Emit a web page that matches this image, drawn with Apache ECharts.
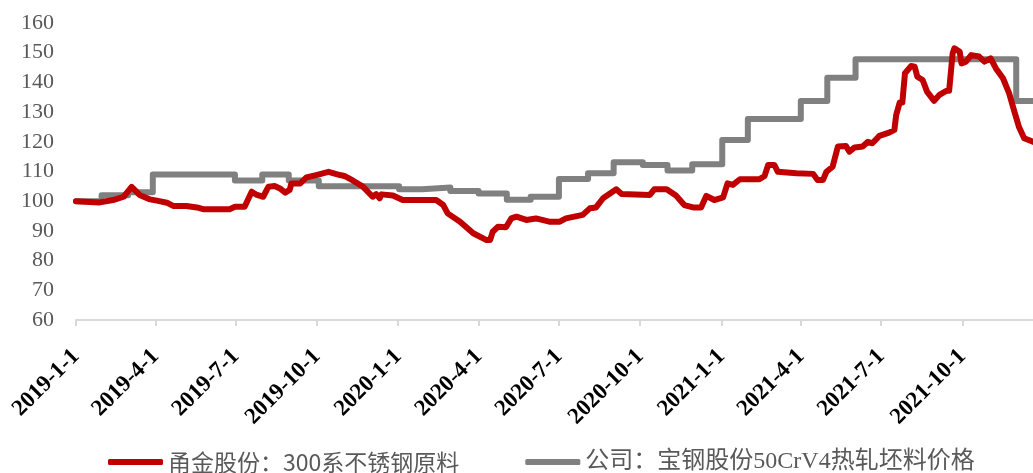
<!DOCTYPE html>
<html>
<head>
<meta charset="utf-8">
<script src="https://cdn.jsdelivr.net/npm/echarts@6/dist/echarts.min.js"></script>
<style>
  html, body { margin: 0; padding: 0; background: #fff; }
  #chart { width: 1033px; height: 473px; }
</style>
</head>
<body>
<div id="chart"></div>
<script>
const seriesNames = ['甬金股份：300系不锈钢原料', '公司：宝钢股份50CrV4热轧坯料价格'];

// 甬金股份 300系不锈钢原料 (index, 2019-1-1 = 100)
const redDates = [
  '2019-01-01', '2019-01-28', '2019-02-12', '2019-02-24', '2019-03-05', '2019-03-14', '2019-03-26',
  '2019-04-04', '2019-04-14', '2019-04-21', '2019-05-06', '2019-05-18', '2019-05-25', '2019-06-24',
  '2019-06-30', '2019-07-11', '2019-07-19', '2019-07-25', '2019-08-01', '2019-08-07', '2019-08-14',
  '2019-08-20', '2019-08-26', '2019-08-31', '2019-09-02', '2019-09-12', '2019-09-19', '2019-09-30',
  '2019-10-14', '2019-10-27', '2019-11-01', '2019-11-11', '2019-11-22', '2019-12-03', '2019-12-07',
  '2019-12-11', '2019-12-13', '2019-12-26', '2020-01-06', '2020-02-13', '2020-02-21', '2020-02-26',
  '2020-03-11', '2020-03-26', '2020-04-10', '2020-04-14', '2020-04-17', '2020-04-23', '2020-05-02',
  '2020-05-08', '2020-05-14', '2020-05-25', '2020-06-05', '2020-06-20', '2020-07-02', '2020-07-09',
  '2020-07-28', '2020-08-05', '2020-08-12', '2020-08-20', '2020-08-27', '2020-09-04', '2020-09-10',
  '2020-10-12', '2020-10-17', '2020-10-31', '2020-11-11', '2020-11-20', '2020-11-30', '2020-12-09',
  '2020-12-15', '2020-12-24', '2021-01-03', '2021-01-08', '2021-01-14', '2021-01-22', '2021-02-13',
  '2021-02-19', '2021-02-23', '2021-03-02', '2021-03-06', '2021-03-27', '2021-04-15', '2021-04-20',
  '2021-04-26', '2021-04-30', '2021-05-07', '2021-05-13', '2021-05-22', '2021-05-26', '2021-06-01',
  '2021-06-10', '2021-06-16', '2021-06-21', '2021-06-29', '2021-07-10', '2021-07-16', '2021-07-18',
  '2021-07-22', '2021-07-25', '2021-07-28', '2021-08-04', '2021-08-08', '2021-08-11', '2021-08-17',
  '2021-08-22', '2021-08-30', '2021-09-05', '2021-09-13', '2021-09-16', '2021-09-20', '2021-09-22',
  '2021-09-28', '2021-09-30', '2021-10-05', '2021-10-11', '2021-10-20', '2021-10-26', '2021-11-02',
  '2021-11-08', '2021-11-16', '2021-11-23', '2021-11-29', '2021-12-04', '2021-12-10', '2021-12-20'
];
const redValues = [
  100, 99.6, 100.4, 101.5, 104.8, 102.1, 100.6,
  100.1, 99.5, 98.4, 98.4, 97.9, 97.3, 97.3,
  98.1, 98.1, 103.2, 102.1, 101.5, 104.9, 105.1,
  104.3, 102.9, 103.8, 106, 106, 108, 108.8,
  109.9, 108.8, 108.5, 106.9, 104.9, 101.5, 102.4,
  101, 102.3, 101.9, 100.4, 100.4, 98.7, 95.9,
  93.1, 89.2, 86.9, 86.9, 89.7, 91.4, 91.2,
  94.2, 94.8, 93.7, 94.2, 93.1, 93.1, 94.2,
  95.4, 97.6, 97.9, 101, 102.4, 104, 102.4,
  102.1, 104, 104, 101.8, 98.7, 97.9, 97.9,
  101.8, 100.4, 101.3, 106, 105.5, 107.4, 107.4,
  108.5, 112.2, 112.2, 109.9, 109.4, 109.2, 107.1,
  107.1, 109.9, 111.6, 118.4, 118.6, 116.7, 118.1,
  118.4, 120, 119.5, 122, 123.1, 124, 129,
  133.2, 133.2, 143.1, 145.5, 145.3, 141.9, 140.8,
  136.9, 133.8, 135.8, 137.2, 137.2, 149.8, 151.5,
  150.3, 146.4, 147, 149.2, 148.7, 147, 148.1,
  144.7, 141.4, 136.3, 130.1, 125.1, 121.2, 120
];

// 宝钢股份 50CrV4 热轧坯料价格 (step changes)
const greyDates = [
  '2019-01-01', '2019-01-30', '2019-03-01', '2019-03-29', '2019-06-30', '2019-07-31', '2019-08-30',
  '2019-10-03', '2020-01-02', '2020-01-28', '2020-02-29', '2020-04-01', '2020-05-03', '2020-05-30',
  '2020-07-01', '2020-08-03', '2020-09-01', '2020-10-04', '2020-11-01', '2020-11-29', '2021-01-02',
  '2021-01-31', '2021-04-01', '2021-05-01', '2021-06-02', '2021-12-01', '2021-12-20'
];
const greyValues = [
  100, 102, 103, 109, 107, 109, 107,
  105, 104, 104.6, 103.4, 102.6, 100.5, 101.5,
  107.5, 109.4, 113.1, 112.2, 110.3, 112.4, 120.6,
  127.7, 133.7, 141.6, 147.8, 133.7, 133.7
];

const tickDates = [
  '2019-01-01', '2019-04-01', '2019-07-01', '2019-10-01',
  '2020-01-01', '2020-04-01', '2020-07-01', '2020-10-01',
  '2021-01-01', '2021-04-01', '2021-07-01', '2021-10-01'
];
const tickLabels = [
  '2019-1-1', '2019-4-1', '2019-7-1', '2019-10-1',
  '2020-1-1', '2020-4-1', '2020-7-1', '2020-10-1',
  '2021-1-1', '2021-4-1', '2021-7-1', '2021-10-1'
];
const xStart = '2019-01-01';
const xEnd = '2021-12-20';

// days since xStart, so the x axis is a plain value axis in days
function dayNum(s) {
  const p = s.split('-').map(Number);
  const p0 = xStart.split('-').map(Number);
  return Math.round((Date.UTC(p[0], p[1] - 1, p[2]) - Date.UTC(p0[0], p0[1] - 1, p0[2])) / 86400000);
}
const tickDays = tickDates.map(dayNum);

const chart = echarts.init(document.getElementById('chart'));

const option = {
  backgroundColor: '#ffffff',
  animation: false,
  grid: {
    left: 76,
    right: 0,
    top: 23,
    bottom: 153,
    containLabel: false
  },
  legend: {
    left: 103,
    top: 445,
    itemGap: 66,
    itemWidth: 55,
    itemHeight: 6,
    icon: 'roundRect',
    data: [
      {
        name: seriesNames[0],
        textStyle: { fontFamily: '"Noto Sans CJK SC", sans-serif', fontSize: 23, color: '#595959' }
      },
      {
        name: seriesNames[1],
        textStyle: { fontFamily: '"Liberation Serif", "Noto Sans CJK SC", serif', fontSize: 24, color: '#595959' }
      }
    ]
  },
  xAxis: {
    type: 'value',
    min: 0,
    max: dayNum(xEnd),
    axisLine: { show: true, lineStyle: { color: '#d9d9d9', width: 2 } },
    axisTick: {
      show: true,
      customValues: tickDays,
      length: 6,
      lineStyle: { color: '#d9d9d9', width: 2 }
    },
    axisLabel: {
      customValues: tickDays,
      rotate: 45,
      margin: 33,
      color: '#000000',
      fontFamily: '"Liberation Serif", "Times New Roman", serif',
      fontWeight: 'bold',
      fontSize: 23,
      formatter: function (value) {
        const i = tickDays.indexOf(Math.round(value));
        return i >= 0 ? tickLabels[i] : '';
      }
    },
    splitLine: { show: false }
  },
  yAxis: {
    type: 'value',
    min: 60,
    max: 160,
    interval: 10,
    axisLine: { show: false },
    axisTick: { show: false },
    splitLine: { show: false },
    axisLabel: {
      margin: 22,
      color: '#595959',
      fontFamily: '"Liberation Serif", "Times New Roman", serif',
      fontSize: 22
    }
  },
  series: [
    {
      name: seriesNames[1],
      type: 'line',
      step: 'end',
      z: 2,
      showSymbol: false,
      data: greyDates.map((d, i) => [dayNum(d), greyValues[i]]),
      itemStyle: { color: '#808080' },
      lineStyle: { color: '#808080', width: 6, cap: 'round', join: 'round' }
    },
    {
      name: seriesNames[0],
      type: 'line',
      z: 3,
      showSymbol: false,
      data: redDates.map((d, i) => [dayNum(d), redValues[i]]),
      itemStyle: { color: '#C00000' },
      lineStyle: { color: '#C00000', width: 6, cap: 'round', join: 'round' }
    }
  ]
};

chart.setOption(option);
</script>
</body>
</html>
